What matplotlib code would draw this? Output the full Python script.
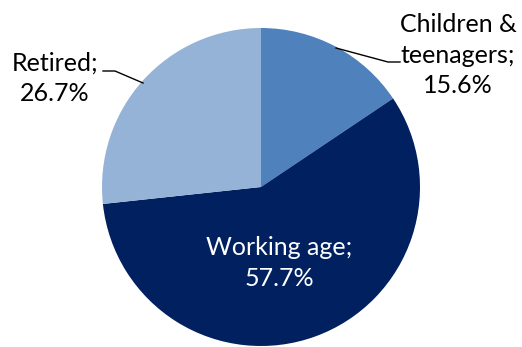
import matplotlib.pyplot as plt

labels = ['Children &\nteenagers;\n15.6%', 'Working age;\n57.7%', 'Retired;\n26.7%']
shares = [15.6, 57.7, 26.7]
colors = ['#4f81bd', '#002060', '#95b3d7']

W, H = 522, 347
fig = plt.figure(figsize=(W / 100, H / 100), dpi=100)
ax = fig.add_axes([0, 0, 1, 1])

# pie centred in pixel coords (y up)
cx, cy, r = 261, H - 187, 159
ax.pie(shares, colors=colors, startangle=90, counterclock=False,
       center=(cx, cy), radius=r, frame=True,
       wedgeprops=dict(linewidth=0))
ax.set_xlim(0, W)
ax.set_ylim(0, H)
ax.set_aspect('equal')
ax.axis('off')

font = dict(family='Lato', fontsize=18, ha='center', va='center', linespacing=1.38)

# labels
ax.text(458, H - 55, labels[0], color='black', **font)
ax.text(279, H - 263, labels[1], color='white', **font)
ax.text(55, H - 78, labels[2], color='black', **font)

# leader lines
ax.plot([336, 388, 400], [H - 48, H - 62, H - 62], color='black', lw=1)
ax.plot([143, 115, 103], [H - 83, H - 71, H - 71], color='black', lw=1)

fig.savefig('out.png', dpi=100)
